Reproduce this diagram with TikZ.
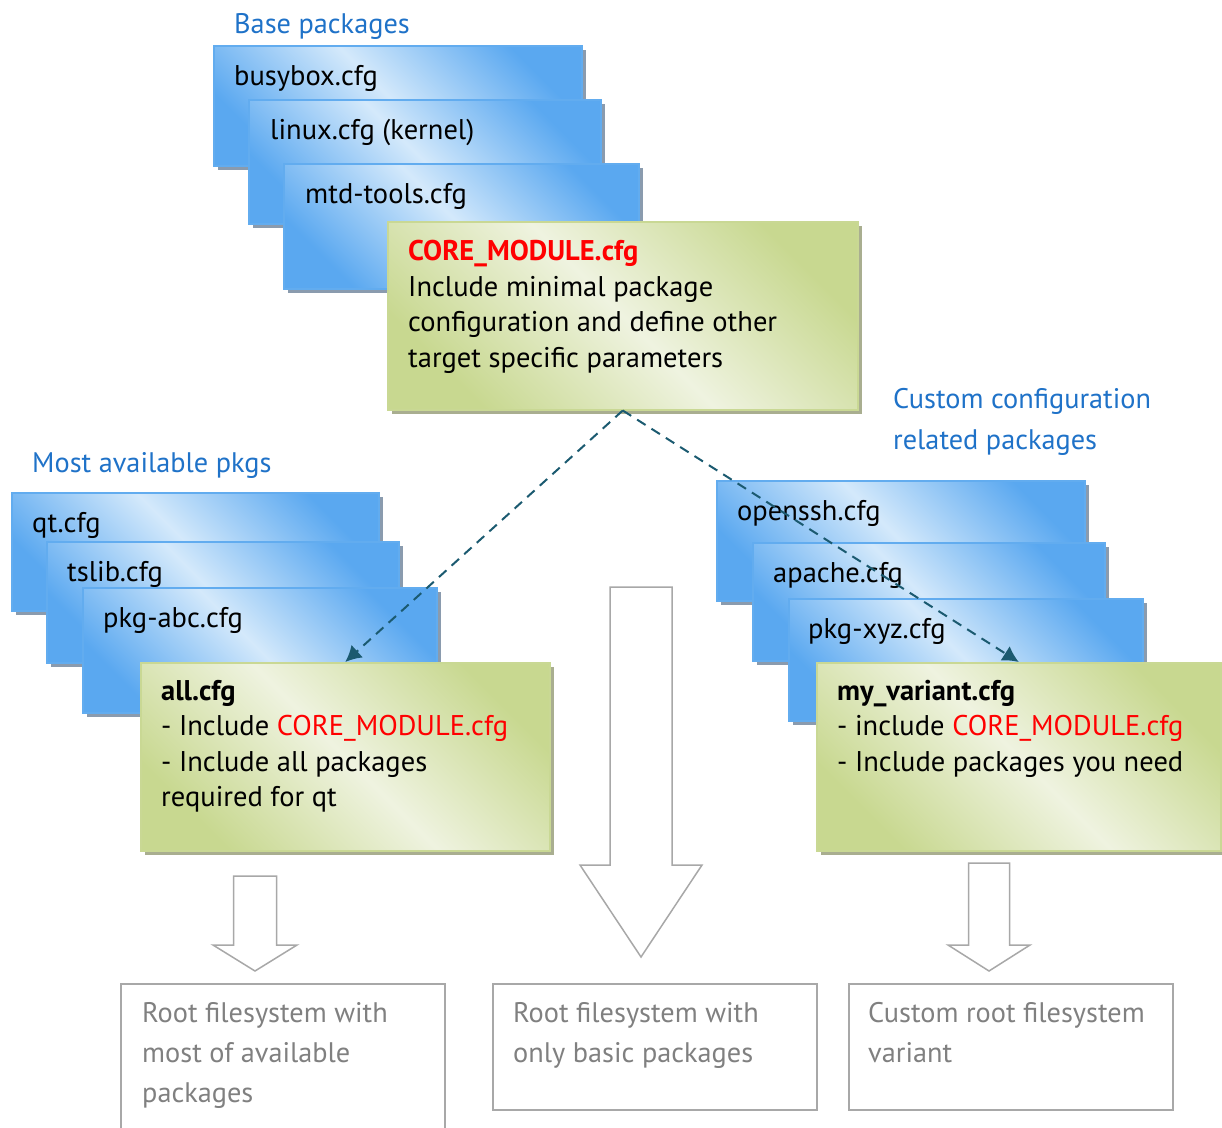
\documentclass[tikz,border=0pt]{standalone}
\usepackage{fontspec}
\setmainfont{PT Sans}
\usetikzlibrary{shadows, arrows.meta}

\definecolor{pkgblue}{HTML}{5AA8F0}
\definecolor{pkglight}{HTML}{D4E9FB}
\definecolor{pkgedge}{HTML}{62ACEF}
\definecolor{pkgshadow}{HTML}{8A9BAE}
\definecolor{cfggreen}{HTML}{C8D890}
\definecolor{cfglight}{HTML}{EFF3E0}
\definecolor{cfgedge}{HTML}{C9D894}
\definecolor{cfgshadow}{HTML}{A9AE90}
\definecolor{cfgred}{HTML}{FF0000}
\definecolor{titleblue}{HTML}{1F72C8}
\definecolor{dashcol}{HTML}{1B5A70}
\definecolor{rootedge}{HTML}{A8A8A8}
\definecolor{rootgray}{HTML}{808080}

\tikzstyle{pkgbox} = [rectangle, draw=pkgedge, line width=1.5pt, top color=pkgblue, bottom color=pkgblue, middle color=pkglight, shading angle=-45, anchor=north west, inner sep=0pt, drop shadow={shadow xshift=4pt, shadow yshift=-4pt, fill=pkgshadow, opacity=1}]
\tikzstyle{cfgbox} = [rectangle, draw=cfgedge, line width=1.5pt, top color=cfggreen, bottom color=cfggreen, middle color=cfglight, shading angle=-45, anchor=north west, inner sep=0pt, minimum height=188pt, drop shadow={shadow xshift=4pt, shadow yshift=-4pt, fill=cfgshadow, opacity=1}]
\tikzstyle{rootbox} = [rectangle, draw=rootedge, line width=1.5pt, anchor=north west, inner sep=0pt, minimum width=324pt]
\tikzstyle{pkgtext} = [anchor=base west, inner sep=0pt, font=\fontsize{28.5}{35}\selectfont]
\tikzstyle{cfgtext} = [anchor=north west, align=left, inner sep=0pt, font=\fontsize{28.5}{35.5}\selectfont]
\tikzstyle{roottext} = [anchor=north west, align=left, inner sep=0pt, text=rootgray, font=\fontsize{28.3}{40}\selectfont]
\tikzstyle{grouptitle} = [align=left, inner sep=0pt, text=titleblue, font=\fontsize{28.3}{41}\selectfont]
\tikzstyle{line} = [draw=dashcol, line width=2pt, dash pattern=on 10pt off 7pt, -{Latex[length=16pt,width=17pt]}]
\tikzstyle{hollow} = [draw=rootedge, line width=1.5pt, fill=white, line join=miter]

% x, top, neck, tip, half shaft, half head
\newcommand{\hollowarrow}[6]{%
  \draw[hollow] (#1-#5,#2) -- (#1+#5,#2) -- (#1+#5,#3) -- (#1+#6,#3)
    -- (#1,#4) -- (#1-#6,#3) -- (#1-#5,#3) -- cycle;}
\newcommand{\core}{CORE\_MODULE.cfg}

\begin{document}
\begin{tikzpicture}[x=1pt, y=-1pt]
    \useasboundingbox (0,0) rectangle (1222,1127);

    % base packages
    \node[grouptitle, anchor=base west] (basetitle) at (234,33) {Base packages};
    \node[pkgbox, minimum width=368pt, minimum height=120pt] (busybox) at (213,45) {};
    \node[pkgtext] at ([shift={(21,40)}]busybox.north west) {busybox.cfg};
    \node[pkgbox, minimum width=352pt, minimum height=124pt] (linux) at (248,99) {};
    \node[pkgtext] at ([shift={(22,40)}]linux.north west) {linux.cfg (kernel)};
    \node[pkgbox, minimum width=355pt, minimum height=125pt] (mtd) at (283,163) {};
    \node[pkgtext] at ([shift={(22,40)}]mtd.north west) {mtd-tools.cfg};
    \node[cfgbox, minimum width=470pt] (core) at (387,221) {};
    \node[cfgtext] at ([shift={(21,19)}]core.north west)
        {\textcolor{cfgred}{\textbf{\core}}\\Include minimal package\\configuration and define other\\target specific parameters};

    % most available packages
    \node[grouptitle, anchor=base west] (mosttitle) at (32,472) {Most available pkgs};
    \node[pkgbox, minimum width=367pt, minimum height=118pt] (qt) at (11,492) {};
    \node[pkgtext] at ([shift={(21,40)}]qt.north west) {qt.cfg};
    \node[pkgbox, minimum width=352pt, minimum height=121pt] (tslib) at (46,541) {};
    \node[pkgtext] at ([shift={(21,40)}]tslib.north west) {tslib.cfg};
    \node[pkgbox, minimum width=354pt, minimum height=125pt] (pkgabc) at (82,587) {};
    \node[pkgtext] at ([shift={(21,40)}]pkgabc.north west) {pkg-abc.cfg};
    \node[cfgbox, minimum width=409pt] (all) at (140,662) {};
    \node[cfgtext] at ([shift={(21,18)}]all.north west)
        {\textbf{all.cfg}\\- Include \textcolor{cfgred}{\core}\\- Include all packages\\required for qt};

    % custom packages
    \node[grouptitle, anchor=north west] (customtitle) at (893,388) {Custom configuration\\related packages};
    \node[pkgbox, minimum width=368pt, minimum height=120pt] (openssh) at (716,480) {};
    \node[pkgtext] at ([shift={(21,40)}]openssh.north west) {openssh.cfg};
    \node[pkgbox, minimum width=352pt, minimum height=118pt] (apache) at (752,542) {};
    \node[pkgtext] at ([shift={(21,40)}]apache.north west) {apache.cfg};
    \node[pkgbox, minimum width=354pt, minimum height=122pt] (pkgxyz) at (788,598) {};
    \node[pkgtext] at ([shift={(20,40)}]pkgxyz.north west) {pkg-xyz.cfg};
    \node[cfgbox, minimum width=404pt] (variant) at (816,662) {};
    \node[cfgtext] at ([shift={(21,18)}]variant.north west)
        {\textbf{my\_variant.cfg}\\- include \textcolor{cfgred}{\core}\\- Include packages you need};

    % resulting root filesystems
    \hollowarrow{255}{876}{945}{971}{21.5}{42}
    \hollowarrow{641}{587}{865}{957}{31}{61}
    \hollowarrow{989}{863}{945}{971}{20.5}{41}
    \node[rootbox, minimum height=160pt] (rootall) at (120,983) {};
    \node[roottext] at ([shift={(22,19)}]rootall.north west) {Root filesystem with\\most of available\\packages};
    \node[rootbox, minimum height=126pt] (rootbase) at (492,983) {};
    \node[roottext] at ([shift={(21,19)}]rootbase.north west) {Root filesystem with\\only basic packages};
    \node[rootbox, minimum height=126pt] (rootcustom) at (848,983) {};
    \node[roottext] at ([shift={(20,19)}]rootcustom.north west) {Custom root filesystem\\variant};

    \path[line] (core.south) -- (all.north);
    \path[line] (core.south) -- (variant.north);
\end{tikzpicture}
\end{document}
